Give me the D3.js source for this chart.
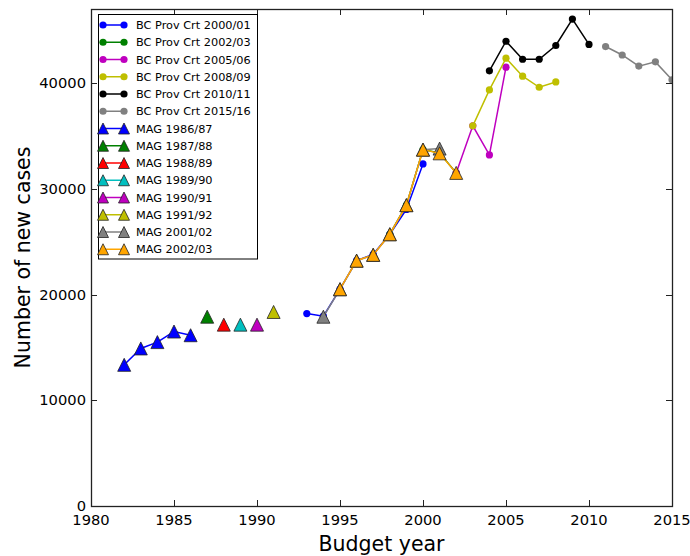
<!DOCTYPE html>
<html>
<head>
<meta charset="utf-8">
<script src="https://cdn.jsdelivr.net/npm/d3@7"></script>
<style>
  html, body { margin: 0; padding: 0; background: #fff; }
  svg { display: block; font-family: "DejaVu Sans", sans-serif; }
</style>
</head>
<body>
<svg id="chart" width="690" height="556"></svg>
<script>
// Yearly new case counts by source report
const xTicks = [1980, 1985, 1990, 1995, 2000, 2005, 2010, 2015];
const yTicks = [0, 10000, 20000, 30000, 40000];

const bc2000Years = [1993, 1994, 1995, 1996, 1997, 1998, 1999, 2000];
const bc2000Vals  = [18200, 17950, 20500, 23200, 23800, 25700, 28050, 32350];

const bc2002Years = [1998, 1999, 2000, 2001, 2002];
const bc2002Vals  = [25700, 28450, 33700, 33400, 31500];

const bc2005Years = [2002, 2003, 2004, 2005];
const bc2005Vals  = [31500, 35950, 33200, 41500];

const bc2008Years = [2003, 2004, 2005, 2006, 2007, 2008];
const bc2008Vals  = [35950, 39350, 42350, 40650, 39600, 40100];

const bc2010Years = [2004, 2005, 2006, 2007, 2008, 2009, 2010];
const bc2010Vals  = [41150, 43950, 42250, 42250, 43550, 46050, 43650];

const bc2015Years = [2011, 2012, 2013, 2014, 2015];
const bc2015Vals  = [43450, 42650, 41600, 42000, 40300];

const mag1986Years = [1982, 1983, 1984, 1985, 1986];
const mag1986Vals  = [13350, 14900, 15500, 16500, 16150];
const mag1987Years = [1987];
const mag1987Vals  = [17900];
const mag1988Years = [1988];
const mag1988Vals  = [17150];
const mag1989Years = [1989];
const mag1989Vals  = [17150];
const mag1990Years = [1990];
const mag1990Vals  = [17150];
const mag1991Years = [1991];
const mag1991Vals  = [18350];
const mag2001Years = [1994, 1995, 1996, 1997, 1998, 1999, 2000, 2001];
const mag2001Vals  = [17900, 20500, 23200, 23750, 25700, 28450, 33700, 33800];
const mag2002Years = [1995, 1996, 1997, 1998, 1999, 2000, 2001, 2002];
const mag2002Vals  = [20500, 23200, 23750, 25700, 28450, 33700, 33350, 31500];

const series = [
  { name: "BC Prov Crt 2000/01", years: bc2000Years, vals: bc2000Vals, color: "#0000ff", marker: "circle" },
  { name: "BC Prov Crt 2002/03", years: bc2002Years, vals: bc2002Vals, color: "#008000", marker: "circle" },
  { name: "BC Prov Crt 2005/06", years: bc2005Years, vals: bc2005Vals, color: "#bf00bf", marker: "circle" },
  { name: "BC Prov Crt 2008/09", years: bc2008Years, vals: bc2008Vals, color: "#bfbf00", marker: "circle" },
  { name: "BC Prov Crt 2010/11", years: bc2010Years, vals: bc2010Vals, color: "#000000", marker: "circle" },
  { name: "BC Prov Crt 2015/16", years: bc2015Years, vals: bc2015Vals, color: "#808080", marker: "circle" },
  { name: "MAG 1986/87", years: mag1986Years, vals: mag1986Vals, color: "#0000ff", marker: "triangle" },
  { name: "MAG 1987/88", years: mag1987Years, vals: mag1987Vals, color: "#008000", marker: "triangle" },
  { name: "MAG 1988/89", years: mag1988Years, vals: mag1988Vals, color: "#ff0000", marker: "triangle" },
  { name: "MAG 1989/90", years: mag1989Years, vals: mag1989Vals, color: "#00bfbf", marker: "triangle" },
  { name: "MAG 1990/91", years: mag1990Years, vals: mag1990Vals, color: "#bf00bf", marker: "triangle" },
  { name: "MAG 1991/92", years: mag1991Years, vals: mag1991Vals, color: "#bfbf00", marker: "triangle" },
  { name: "MAG 2001/02", years: mag2001Years, vals: mag2001Vals, color: "#808080", marker: "triangle" },
  { name: "MAG 2002/03", years: mag2002Years, vals: mag2002Vals, color: "#ffa500", marker: "triangle" }
];

const svg = d3.select("#chart");
const plot = { left: 91, right: 672, top: 9, bottom: 506 };

const x = d3.scaleLinear().domain([1980, 2015]).range([plot.left, plot.right]);
const y = d3.scaleLinear().domain([0, 47000]).range([plot.bottom, plot.top]);

// Upward triangle marker: apex on top, base below, centred on its box
function triPath(s) {
  const h = s / 2;
  return `M0,${-h}L${-h},${h}L${h},${h}Z`;
}

const clipId = "plot-clip";
svg.append("clipPath").attr("id", clipId)
  .append("rect")
  .attr("x", plot.left).attr("y", plot.top)
  .attr("width", plot.right - plot.left + 1).attr("height", plot.bottom - plot.top + 1);

const gData = svg.append("g").attr("clip-path", `url(#${clipId})`);
const line = d3.line().x(d => x(d[0])).y(d => y(d[1]));

series.forEach(s => {
  const pts = s.years.map((yr, i) => [yr, s.vals[i]]);
  const g = gData.append("g");
  g.append("path")
    .attr("d", line(pts))
    .attr("fill", "none")
    .attr("stroke", s.color)
    .attr("stroke-width", 1.5);
  if (s.marker === "circle") {
    g.selectAll("circle").data(pts).join("circle")
      .attr("cx", d => x(d[0])).attr("cy", d => y(d[1]))
      .attr("r", 3.6)
      .attr("fill", s.color);
  } else {
    g.selectAll("path.m").data(pts).join("path")
      .attr("class", "m")
      .attr("transform", d => `translate(${x(d[0])},${y(d[1])})`)
      .attr("d", triPath(13))
      .attr("fill", s.color)
      .attr("stroke", "#222")
      .attr("stroke-width", 0.8)
      .attr("stroke-linejoin", "miter");
  }
});

// Frame and inward ticks on all four sides
const tickLen = 6;
const gAxes = svg.append("g").attr("stroke", "#222").attr("stroke-width", 1);
xTicks.forEach(t => {
  const px = Math.round(x(t)) + 0.5;
  gAxes.append("line").attr("x1", px).attr("x2", px).attr("y1", plot.bottom).attr("y2", plot.bottom - tickLen);
  gAxes.append("line").attr("x1", px).attr("x2", px).attr("y1", plot.top).attr("y2", plot.top + tickLen);
});
yTicks.forEach(t => {
  const py = Math.round(y(t)) + 0.5;
  gAxes.append("line").attr("x1", plot.left).attr("x2", plot.left + tickLen).attr("y1", py).attr("y2", py);
  gAxes.append("line").attr("x1", plot.right).attr("x2", plot.right - tickLen).attr("y1", py).attr("y2", py);
});
svg.append("rect")
  .attr("x", plot.left + 0.5).attr("y", plot.top + 0.5)
  .attr("width", plot.right - plot.left).attr("height", plot.bottom - plot.top)
  .attr("fill", "none").attr("stroke", "#222").attr("stroke-width", 1.3);

// Tick labels
svg.append("g").selectAll("text").data(xTicks).join("text")
  .attr("x", d => x(d)).attr("y", plot.bottom + 19)
  .attr("text-anchor", "middle")
  .attr("font-size", 14.7)
  .attr("fill", "#000")
  .text(d => d);
svg.append("g").selectAll("text").data(yTicks).join("text")
  .attr("x", plot.left - 5).attr("y", d => y(d) + 5)
  .attr("text-anchor", "end")
  .attr("font-size", 14.7)
  .attr("fill", "#000")
  .text(d => d);

// Axis titles
svg.append("text")
  .attr("x", x(1997.5)).attr("y", 551)
  .attr("text-anchor", "middle")
  .attr("font-size", 20.5)
  .text("Budget year");
svg.append("text")
  .attr("transform", `translate(30,${(plot.top + plot.bottom) / 2}) rotate(-90)`)
  .attr("text-anchor", "middle")
  .attr("font-size", 20.5)
  .text("Number of new cases");

// Legend
const leg = { x: 98, y: 14, w: 159, rowH: 17.25 };
const gLeg = svg.append("g");
gLeg.append("rect")
  .attr("x", leg.x + 0.5).attr("y", leg.y + 0.5)
  .attr("width", leg.w).attr("height", series.length * leg.rowH + 3)
  .attr("fill", "#fff").attr("stroke", "#000").attr("stroke-width", 1);
series.forEach((s, i) => {
  const cy = leg.y + 11 + i * leg.rowH;
  const g = gLeg.append("g");
  const x1 = leg.x + 5, x2 = leg.x + 26;
  g.append("line").attr("x1", x1).attr("x2", x2).attr("y1", cy).attr("y2", cy)
    .attr("stroke", s.color).attr("stroke-width", 1.5);
  [x1, x2].forEach(mx => {
    if (s.marker === "circle") {
      g.append("circle").attr("cx", mx).attr("cy", cy).attr("r", 3.6).attr("fill", s.color);
    } else {
      g.append("path").attr("transform", `translate(${mx},${cy})`)
        .attr("d", triPath(11)).attr("fill", s.color)
        .attr("stroke", "#222").attr("stroke-width", 0.8);
    }
  });
  g.append("text")
    .attr("x", leg.x + 38).attr("y", cy + 4)
    .attr("font-size", 11.3)
    .attr("fill", "#000")
    .text(s.name);
});
</script>
</body>
</html>
